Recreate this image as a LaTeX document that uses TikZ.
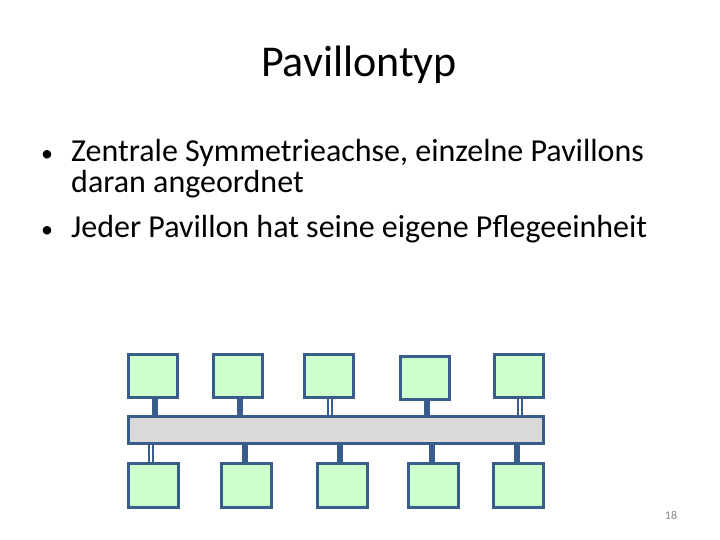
\documentclass[tikz,border=0pt]{standalone}
\usepackage{fontspec}
\setmainfont{Carlito}
\usepackage{tikz}
\usetikzlibrary{positioning, calc}
\definecolor{myblue}{RGB}{56,93,138}
\definecolor{mygreen}{RGB}{204,255,204}
\definecolor{mygrey}{RGB}{217,217,217}
\definecolor{mynum}{RGB}{137,137,137}
\tikzset{
  pavillon/.style={rectangle, draw=myblue, fill=mygreen, line width=3pt,
    minimum width=49pt, minimum height=43pt, inner sep=0pt},
  lowpavillon/.style={pavillon, minimum width=50pt, minimum height=44pt},
  axisbar/.style={rectangle, draw=myblue, fill=mygrey, line width=3pt,
    minimum width=415pt, minimum height=27pt, inner sep=0pt},
  stem/.style={draw=myblue, line width=6pt},
  hollowstem/.style={draw=myblue, double=white, line width=2pt, double distance=2pt},
  bulletdot/.style={anchor=base, inner sep=0pt, font=\fontsize{24}{28}\selectfont},
  bullettext/.style={anchor=base west, inner sep=0pt, font=\fontsize{32}{38}\selectfont},
  titletext/.style={anchor=base, inner sep=0pt, font=\fontsize{44}{52}\selectfont}
}
\begin{document}
\begin{tikzpicture}[x=1pt, y=-1pt]
  \useasboundingbox[fill=white] (0,0) rectangle (720,540);
  % title and bullets
  \node[titletext] (title) at (359,77) {Pavillontyp};
  \node[bulletdot] (b1) at (47,162) {•};
  \node[bullettext] (l1) at (71,162) {Zentrale Symmetrieachse, einzelne Pavillons};
  \node[bullettext] (l2) at (71,193) {daran angeordnet};
  \node[bulletdot] (b2) at (47,237) {•};
  \node[bullettext] (l3) at (71,237) {Jeder Pavillon hat seine eigene Pflegeeinheit};
  % central axis
  \node[axisbar] (bar) at (336,430) {};
  % upper row
  \node[pavillon] (t1) at (153,376) {};
  \node[pavillon] (t2) at (238,376) {};
  \node[pavillon] (t3) at (329,376) {};
  \node[pavillon] (t4) at (425,377.5) {};
  \node[pavillon] (t5) at (519,376) {};
  % lower row
  \node[lowpavillon] (u1) at (153,485.5) {};
  \node[lowpavillon] (u2) at (246.5,485.5) {};
  \node[lowpavillon] (u3) at (342.5,485.5) {};
  \node[lowpavillon] (u4) at (433.5,485.5) {};
  \node[lowpavillon] (u5) at (518.5,485.5) {};
  % connections to the axis
  \draw[stem] ([xshift=2pt]t1.south) -- ([xshift=2pt]t1.south |- bar.north);
  \draw[stem] ([xshift=2pt]t2.south) -- ([xshift=2pt]t2.south |- bar.north);
  \draw[hollowstem] ([xshift=1pt]t3.south) -- ([xshift=1pt]t3.south |- bar.north);
  \draw[stem] ([xshift=2pt]t4.south) -- ([xshift=2pt]t4.south |- bar.north);
  \draw[hollowstem] ([xshift=1pt]t5.south) -- ([xshift=1pt]t5.south |- bar.north);
  \draw[hollowstem] ([xshift=-2pt]u1.north) -- ([xshift=-2pt]u1.north |- bar.south);
  \draw[stem] ([xshift=-1.5pt]u2.north) -- ([xshift=-1.5pt]u2.north |- bar.south);
  \draw[stem] ([xshift=-2.5pt]u3.north) -- ([xshift=-2.5pt]u3.north |- bar.south);
  \draw[stem] ([xshift=-1.5pt]u4.north) -- ([xshift=-1.5pt]u4.north |- bar.south);
  \draw[stem] ([xshift=-1.5pt]u5.north) -- ([xshift=-1.5pt]u5.north |- bar.south);
  % page number
  \node[anchor=base, inner sep=0pt, font=\fontsize{12}{14}\selectfont, color=mynum] (num) at (671,519) {18};
\end{tikzpicture}
\end{document}
